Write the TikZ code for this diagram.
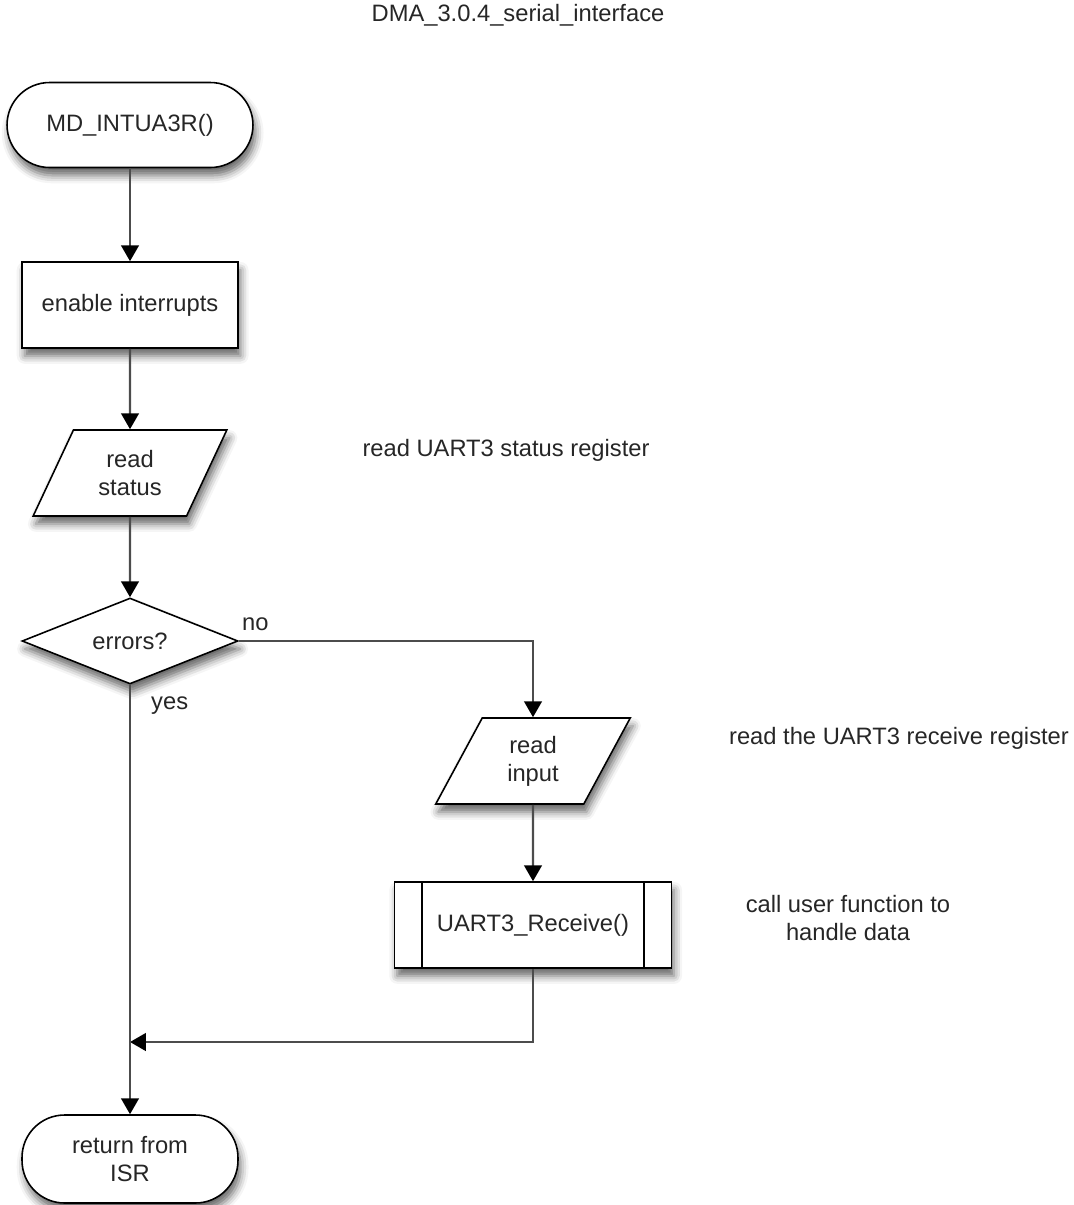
\documentclass[tikz,border=0pt]{standalone}
\usepackage{fontspec}
\setmainfont{Liberation Sans}
\usetikzlibrary{shapes.geometric,arrows.meta,shadows.blur}

\tikzset{
  flow/.style={draw=black, line width=0.9pt, fill=white, align=center,
    blur shadow={shadow xshift=1.5pt, shadow yshift=-4.5pt, shadow blur radius=4.5pt, shadow opacity=60}},
  term/.style={flow, rectangle, rounded corners=0.85cm, minimum height=1.7cm},
  proc/.style={flow, rectangle, minimum width=4.32cm, minimum height=1.72cm},
  io/.style={flow, trapezium, trapezium left angle=65, trapezium right angle=115,
    trapezium stretches=true, minimum width=3.9cm, minimum height=1.72cm},
  decision/.style={flow, diamond, aspect=2.5, minimum width=4.32cm, minimum height=1.72cm, inner sep=0pt},
  line/.style={draw=black!70, line width=1.3pt, -{Triangle[length=9pt,width=10pt,color=black]}},
  note/.style={align=center}
}

\begin{document}
\begin{tikzpicture}[x=0.02cm, y=-0.02cm, font=\fontsize{13.5}{16}\selectfont, text=black!85]
  \useasboundingbox (0,0) rectangle (1073,1205);

  \node (title) at (518,15) {DMA\_3.0.4\_serial\_interface};

  % main column
  \begin{scope}
      \node[term, minimum width=4.92cm] (start) at (130,125) {MD\_INTUA3R()};
      \node[proc] (enable) at (130,305) {enable interrupts};
      \node[io] (status) at (130,473) {read\\status};
      \node[decision] (errors) at (130,641) {errors?};
      \node[term, minimum width=4.32cm, minimum height=1.76cm] (ret) at (130,1159) {return from\\ISR};
  \end{scope}

  % "no" branch
  \begin{scope}
      \node[io] (input) at (533,761) {read\\input};
      \node[proc, minimum width=5.54cm] (recv) at (533,925) {UART3\_Receive()};
      \draw[line width=0.9pt] ([xshift=0.56cm]recv.north west) -- ([xshift=0.56cm]recv.south west);
      \draw[line width=0.9pt] ([xshift=-0.56cm]recv.north east) -- ([xshift=-0.56cm]recv.south east);
      \coordinate (join) at (130,1042);
  \end{scope}

  % remarks
  \node[note] (statusnote) at (506,450) {read UART3 status register};
  \node[note] (inputnote) at (899,738) {read the UART3 receive register};
  \node[note] (recvnote) at (848,918) {call user function to\\handle data};

  \begin{scope}
      \draw[line] (start) -- (enable);
      \draw[line] (enable) -- (status);
      \draw[line] (status) -- (errors);
      \draw[line] (errors.east) -| (input.north);
      \draw[line] (input) -- (recv);
      \draw[line] (recv.south) |- (join);
      \draw[line] (errors.south) -- (ret.north);
      \node[right] (nolbl) at (236,624) {no};
      \node[right] (yeslbl) at (145,706) {yes};
  \end{scope}
\end{tikzpicture}
\end{document}
